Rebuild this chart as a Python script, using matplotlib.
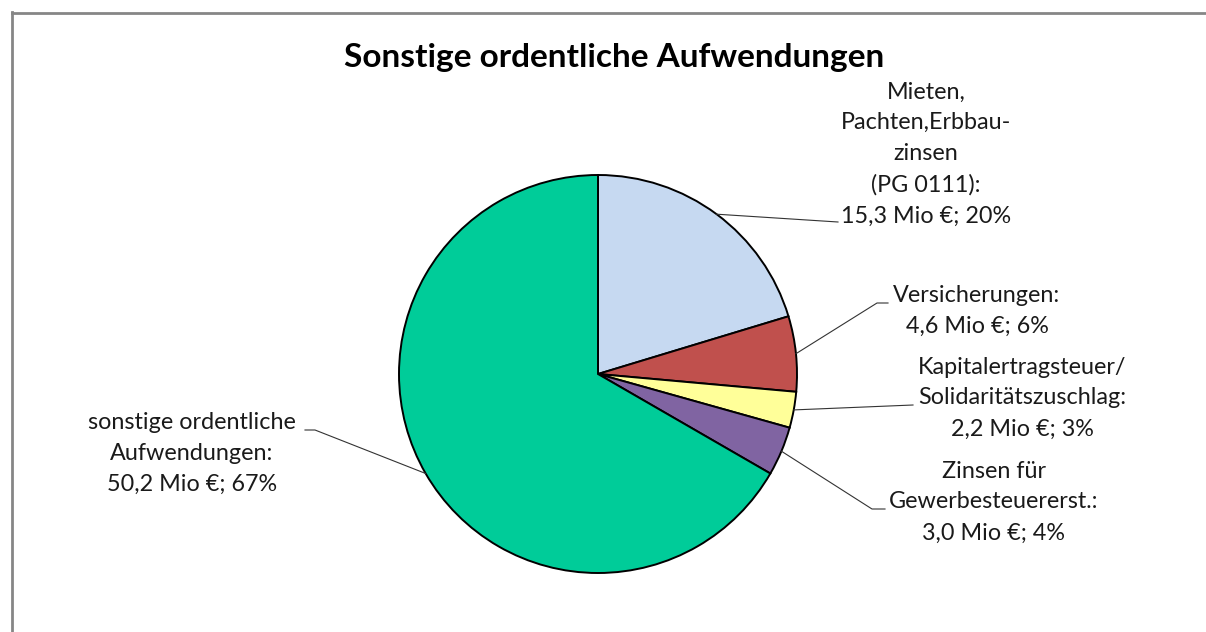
import numpy as np
import matplotlib
matplotlib.use("Agg")
import matplotlib.pyplot as plt
from matplotlib.lines import Line2D

# --- data ---
names = [
    "Mieten,\nPachten,Erbbau-\nzinsen\n(PG 0111)",
    "Versicherungen",
    "Kapitalertragsteuer/\nSolidaritätszuschlag",
    "Zinsen für\nGewerbesteuererst.",
    "sonstige ordentliche\nAufwendungen",
]
values = [15.3, 4.6, 2.2, 3.0, 50.2]
colors = ["#C6D9F1", "#C0504D", "#FFFF99", "#8064A2", "#00CC99"]
title = "Sonstige ordentliche Aufwendungen"

# label placement (pixel centres) and leader knees (pixels)
label_pos = [(926, 154), (977, 311), (1022, 398), (994, 502), (192, 453)]
leader_knees = [
    [(838, 222)],
    [(877, 303), (888, 303)],
    [(913, 405)],
    [(872, 509), (885, 509)],
    [(315, 430), (305, 430)],
]

W, H = 1206, 632
CX, CY, R = 598, 374, 200

plt.rcParams["font.family"] = ["Lato", "DejaVu Sans"]

fig = plt.figure(figsize=(W / 100, H / 100), dpi=100)
fig.patch.set_facecolor("white")

ax = fig.add_axes([(CX - R) / W, (H - CY - R) / H, 2 * R / W, 2 * R / H])
wedges, _ = ax.pie(values, colors=colors, startangle=90, counterclock=False,
                   radius=0.995,
                   wedgeprops=dict(edgecolor="black", linewidth=1.4))
ax.set_xlim(-1, 1)
ax.set_ylim(-1, 1)
ax.set_aspect("equal")
ax.axis("off")


def px2data(x, y):
    return (x - CX) / R, (CY - y) / R


total = sum(values)
for w, name, val, pos, knees in zip(wedges, names, values, label_pos, leader_knees):
    pct = round(val / total * 100)
    amount = f"{val:.1f}".replace(".", ",")
    txt = f"{name}:\n{amount} Mio €; {pct}%"
    fig.text(pos[0] / W, 1 - pos[1] / H, txt, ha="center", va="center",
             multialignment="center", fontsize=16.8, linespacing=1.58,
             color="#1a1a1a")
    mid = np.deg2rad((w.theta1 + w.theta2) / 2)
    xs = [0.995 * np.cos(mid)]
    ys = [0.995 * np.sin(mid)]
    for kx, ky in knees:
        dx, dy = px2data(kx, ky)
        xs.append(dx)
        ys.append(dy)
    ax.plot(xs, ys, color="#333333", lw=0.8, clip_on=False)

fig.text(614 / W, 1 - 57 / H, title, ha="center", va="center",
         fontsize=24, fontweight="bold", color="black")

# grey chart frame (only left and top edges visible)
frame_c = "#868686"
fig.add_artist(Line2D([12 / W, 12 / W], [0, 1 - 12 / H], transform=fig.transFigure,
                      color=frame_c, lw=2))
fig.add_artist(Line2D([12 / W, 1205 / W], [1 - 13 / H, 1 - 13 / H],
                      transform=fig.transFigure, color=frame_c, lw=2))

fig.savefig("out.png", dpi=100)
